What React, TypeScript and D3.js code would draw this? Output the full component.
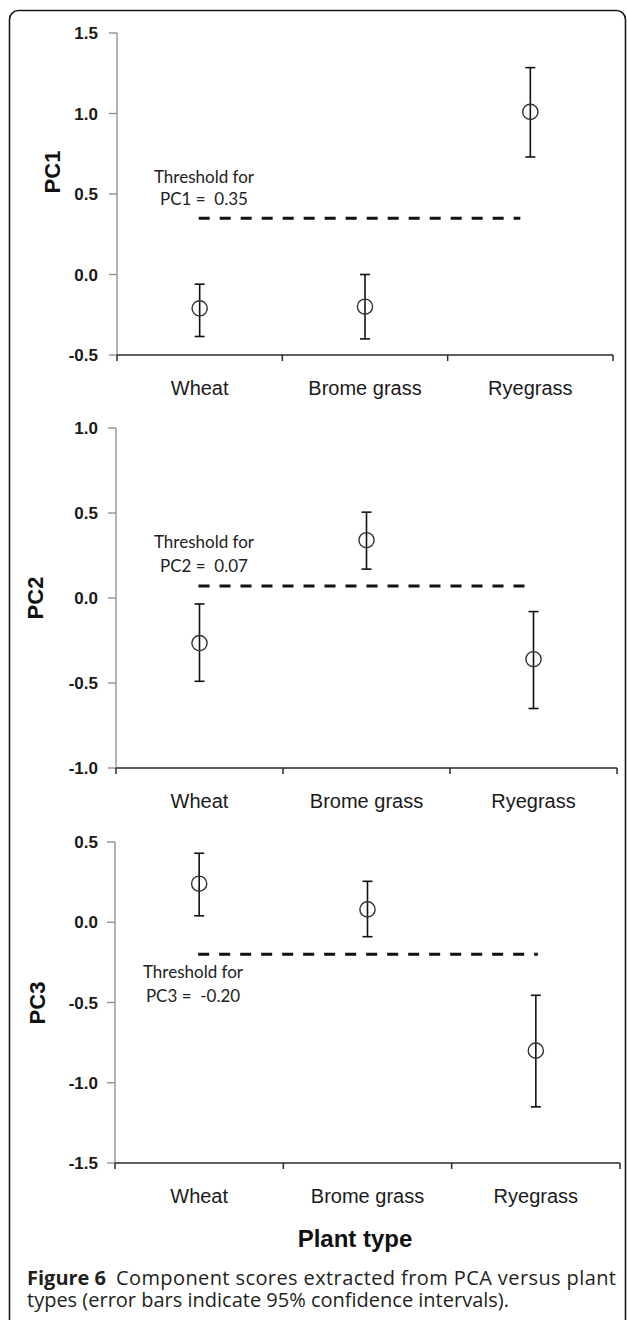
import React from "react";
import * as d3 from "d3";

const categories = ["Wheat", "Brome grass", "Ryegrass"];

const pc1Mean = [-0.21, -0.2, 1.01];
const pc1Lower = [-0.385, -0.4, 0.73];
const pc1Upper = [-0.06, 0.0, 1.285];

const pc2Mean = [-0.265, 0.34, -0.36];
const pc2Lower = [-0.49, 0.17, -0.65];
const pc2Upper = [-0.035, 0.505, -0.08];

const pc3Mean = [0.24, 0.08, -0.8];
const pc3Lower = [0.04, -0.09, -1.15];
const pc3Upper = [0.43, 0.255, -0.455];

const thresholds = [0.35, 0.07, -0.2];
const componentNames = ["PC1", "PC2", "PC3"];
const yDomains: [number, number][] = [
  [-0.5, 1.5],
  [-1.0, 1.0],
  [-1.5, 0.5],
];
const yTickValues = [
  [-0.5, 0.0, 0.5, 1.0, 1.5],
  [-1.0, -0.5, 0.0, 0.5, 1.0],
  [-1.5, -1.0, -0.5, 0.0, 0.5],
];
const thresholdLabels = ["PC1 =  0.35", "PC2 =  0.07", "PC3 =  -0.20"];
const xAxisTitle = "Plant type";
const captionBold = "Figure 6";
const captionRest1 = "Component scores extracted from PCA versus plant";
const captionLine2 = "types (error bars indicate 95% confidence intervals).";

// layout (pixel geometry only)
const layouts = [
  { x0: 117, x1: 613, yTop: 33, yBot: 355, yLabX: 60, yLabY: 172, thrX: 204, thrY1: 183, thrY2: 205, dashEndOff: -10 },
  { x0: 116, x1: 617, yTop: 428, yBot: 768, yLabX: 43, yLabY: 598, thrX: 204, thrY1: 548, thrY2: 572, dashEndOff: -1 },
  { x0: 115, x1: 620, yTop: 842, yBot: 1163, yLabX: 45, yLabY: 1003, thrX: 193, thrY1: 978, thrY2: 1002, dashEndOff: 2 },
];

const means = [pc1Mean, pc2Mean, pc3Mean];
const lowers = [pc1Lower, pc2Lower, pc3Lower];
const uppers = [pc1Upper, pc2Upper, pc3Upper];

const fmt = (v: number) => d3.format(".1f")(v).replace("\u2212", "-");

const ARIAL = "'Liberation Sans', Arial, sans-serif";
const CAPFONT = "'Open Sans', sans-serif";

function Panel({ i }: { i: number }) {
  const L = layouts[i];
  const x = d3.scaleBand<string>().domain(categories).range([L.x0, L.x1]).padding(0);
  const y = d3.scaleLinear().domain(yDomains[i]).range([L.yBot, L.yTop]);
  const bw = x.bandwidth();
  const cx = (c: string) => (x(c) as number) + bw / 2;
  const tickXs = [...categories.map((c) => x(c) as number), L.x1];
  const ty = y(thresholds[i]);
  return (
    <g>
      <line x1={L.x0} x2={L.x0} y1={y(yDomains[i][1])} y2={y(yDomains[i][0])} stroke="#8a8a8a" strokeWidth={1.3} />
      {yTickValues[i].map((v) => (
        <g key={v}>
          <line x1={L.x0 - 8} x2={L.x0} y1={y(v)} y2={y(v)} stroke="#8a8a8a" strokeWidth={1.3} />
          <text x={98} y={y(v)} dy="0.36em" textAnchor="end" fontFamily={ARIAL} fontWeight="bold" fontSize={17} fill="#1a1a1a">
            {fmt(v)}
          </text>
        </g>
      ))}
      <line x1={L.x0} x2={L.x1} y1={L.yBot} y2={L.yBot} stroke="#2a2a2a" strokeWidth={1.5} />
      {tickXs.map((t, k) => (
        <line key={k} x1={t} x2={t} y1={L.yBot} y2={L.yBot + 6} stroke="#2a2a2a" strokeWidth={1.5} />
      ))}
      {categories.map((c) => (
        <text key={c} x={cx(c)} y={L.yBot + 40} textAnchor="middle" fontFamily={ARIAL} fontSize={20} fill="#1a1a1a">
          {c}
        </text>
      ))}
      <text
        transform={`translate(${L.yLabX},${L.yLabY}) rotate(-90)`}
        textAnchor="middle"
        fontFamily={ARIAL}
        fontWeight="bold"
        fontSize={22}
        fill="#111"
      >
        {componentNames[i]}
      </text>
      <line
        x1={cx(categories[0]) - 1}
        x2={cx(categories[2]) + L.dashEndOff}
        y1={ty}
        y2={ty}
        stroke="#111"
        strokeWidth={3}
        strokeDasharray="11,10"
      />
      <text x={L.thrX} y={L.thrY1} textAnchor="middle" fontFamily="Lato, 'Open Sans', sans-serif" fontSize={17} fill="#222">
        Threshold for
      </text>
      <text x={L.thrX} y={L.thrY2} textAnchor="middle" fontFamily="Lato, 'Open Sans', sans-serif" fontSize={17} fill="#222" style={{ whiteSpace: "pre" }}>
        {thresholdLabels[i]}
      </text>
      {categories.map((c, k) => {
        const px = cx(c);
        const yl = y(lowers[i][k]);
        const yu = y(uppers[i][k]);
        const ym = y(means[i][k]);
        return (
          <g key={c}>
            <line x1={px} x2={px} y1={yu} y2={yl} stroke="#111" strokeWidth={1.6} />
            <line x1={px - 5} x2={px + 5} y1={yu} y2={yu} stroke="#111" strokeWidth={1.6} />
            <line x1={px - 5} x2={px + 5} y1={yl} y2={yl} stroke="#111" strokeWidth={1.6} />
            <circle cx={px} cy={ym} r={7.6} fill="none" stroke="#333" strokeWidth={1.4} />
          </g>
        );
      })}
    </g>
  );
}

export default function App() {
  return (
    <svg
      width={627}
      height={1320}
      viewBox="0 0 627 1320"
      style={{ position: "absolute", left: 0, top: 0, background: "#fff" }}
    >
      <rect x={0} y={0} width={627} height={1320} fill="#fff" />
      <rect x={9.5} y={10.5} width={616} height={1340} rx={9} ry={9} fill="none" stroke="#1a1a1a" strokeWidth={1.6} />
      {[0, 1, 2].map((i) => (
        <Panel key={i} i={i} />
      ))}
      <text x={355} y={1247} textAnchor="middle" fontFamily={ARIAL} fontWeight="bold" fontSize={24} fill="#111">
        {xAxisTitle}
      </text>
      <text x={27} y={1285} fontFamily={CAPFONT} fontWeight="bold" fontSize={20} fill="#231f20">
        {captionBold}
      </text>
      <text x={116} y={1285} fontFamily={CAPFONT} fontSize={20} fill="#231f20" textLength={500} lengthAdjust="spacing">
        {captionRest1}
      </text>
      <text x={27} y={1307} fontFamily={CAPFONT} fontSize={20} fill="#231f20">
        {captionLine2}
      </text>
    </svg>
  );
}
